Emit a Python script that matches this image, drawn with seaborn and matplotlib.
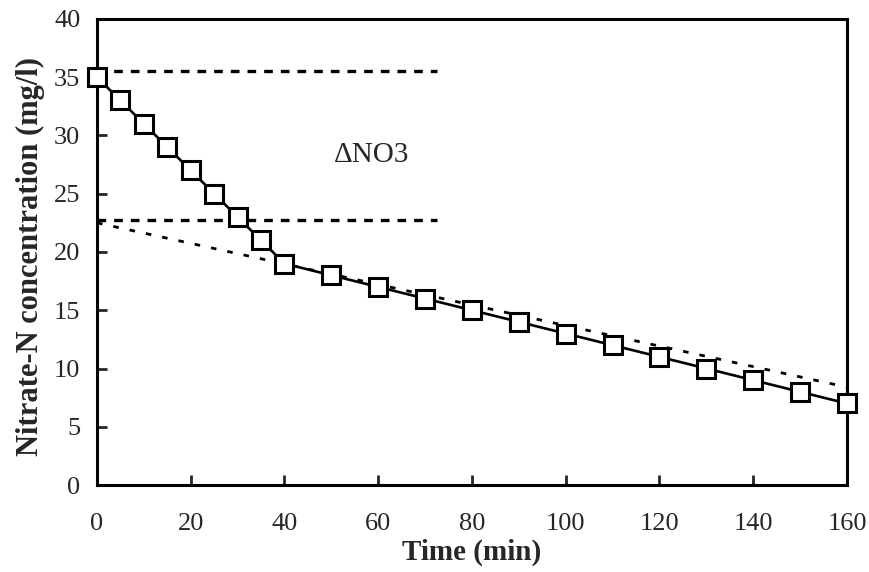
import matplotlib
matplotlib.use("Agg")
import matplotlib.pyplot as plt
import seaborn as sns
import pandas as pd

time_min = [0, 5, 10, 15, 20, 25, 30, 35, 40, 50, 60, 70, 80, 90, 100, 110, 120, 130, 140, 150, 160]
nitrate = [35, 33, 31, 29, 27, 25, 23, 21, 19, 18, 17, 16, 15, 14, 13, 12, 11, 10, 9, 8, 7]

upper_ref_x = [0, 72.5]
upper_ref_y = [35.5, 35.5]
lower_ref_x = [0, 72.5]
lower_ref_y = [22.7, 22.7]
trend_x = [0, 160]
trend_y = [22.5, 8.4]

xticks = [0, 20, 40, 60, 80, 100, 120, 140, 160]
yticks = [0, 5, 10, 15, 20, 25, 30, 35, 40]

sns.set_theme(style="ticks")
plt.rcParams['font.family'] = ['Liberation Serif', 'DejaVu Serif']

fig = plt.figure(figsize=(8.7, 5.72), dpi=100)
ax = fig.add_axes([0.1115, 0.152, 0.862, 0.815])

sns.lineplot(x=upper_ref_x, y=upper_ref_y, ax=ax, color='black', lw=2.4,
             linestyle=(0, (2.6, 2.4)), clip_on=False)
sns.lineplot(x=lower_ref_x, y=lower_ref_y, ax=ax, color='black', lw=2.4,
             linestyle=(0, (2.6, 2.4)), clip_on=False)
sns.lineplot(x=trend_x, y=trend_y, ax=ax, color='black', lw=2.0,
             linestyle=(0, (2.0, 4.0)))

df = pd.DataFrame({"t": time_min, "c": nitrate})
sns.lineplot(data=df, x="t", y="c", ax=ax, color='black', lw=1.9,
             marker='s', markersize=13.5, markerfacecolor='white',
             markeredgecolor='black', markeredgewidth=2.2, clip_on=False, zorder=5)

ax.text(50.5, 28.3, "ΔNO3", fontsize=21, ha='left', va='center')

ax.set_xlim(0, 160)
ax.set_ylim(0, 40)
ax.set_xticks(xticks)
ax.set_yticks(yticks)
ax.tick_params(direction='in', length=7, width=2, labelsize=19)
ax.tick_params(axis='x', pad=20)
ax.tick_params(axis='y', pad=12)
for s in ax.spines.values():
    s.set_linewidth(2.2)
    s.set_color('black')
ax.set_xlabel("Time (min)", fontsize=21, fontweight='bold', labelpad=3)
ax.set_ylabel("Nitrate-N concentration (mg/l)", fontsize=22, fontweight='bold', labelpad=5)
ax.yaxis.set_label_coords(-0.07, 0.49)

fig.savefig("out.png", dpi=100)
